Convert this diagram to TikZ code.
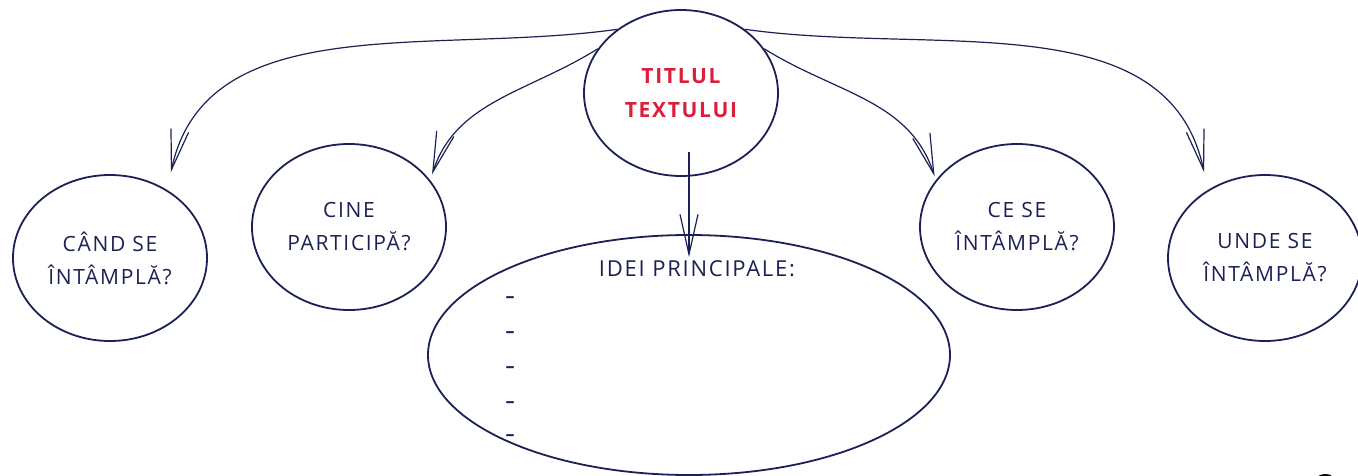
\documentclass[tikz,border=0pt]{standalone}
\usepackage{fontspec}
\setmainfont{Open Sans}[LetterSpace=8]
\usetikzlibrary{shapes.geometric,arrows.meta}
\definecolor{color1}{RGB}{27,33,84}
\definecolor{color2}{RGB}{218,30,60}

\begin{document}
\begin{tikzpicture}[x=1pt,y=-1pt,
  bubble/.style={draw=color1,line width=1.8pt,ellipse,inner sep=0pt,
    minimum width=194pt,minimum height=166pt,align=center,text=color1,
    font=\fontsize{21}{33}\selectfont},
  link/.style={color1,line width=1.2pt,
    -{Straight Barb[length=40pt,width=18pt,line width=1.2pt]}},
  hyphen/.style={text=color1,font=\fontsize{18}{18}\selectfont\bfseries}]
\useasboundingbox (0,0) rectangle (1358,476);

% the five bubbles
\node[bubble,text=color2,font=\fontsize{21}{34}\selectfont\bfseries] (title) at (681,93) {TITLUL\\TEXTULUI};
\node[bubble] (cand) at (110,258) {CÂND SE\\ÎNTÂMPLĂ?};
\node[bubble] (cine) at (349,227) {CINE\\PARTICIPĂ?};
\node[bubble] (cese) at (1017,227) {CE SE\\ÎNTÂMPLĂ?};
\node[bubble] (unde) at (1265,258) {UNDE SE\\ÎNTÂMPLĂ?};

% big ellipse with the list
\node[bubble,minimum width=522pt,minimum height=240pt] (ideas) at (689,355) {};
\node[text=color1,font=\fontsize{22}{22}\selectfont] (head) at (697,269) {IDEI PRINCIPALE:};
\foreach \y [count=\i] in {300,335,370,405,438}
  \node[hyphen] (d\i) at (510,\y) {–};

% arrows
\draw[link,shorten >=18pt] (title.135) to[out=188,in=78] (cand.50);
\draw[link,shorten >=6pt] (title.152) to[out=212,in=72] (cine.30);
\draw[link,shorten >=4pt] (title.28) to[out=-32,in=108] (cese.150);
\draw[link,shorten >=18pt] (title.45) to[out=-8,in=102] (unde.130);
\draw[link] ([yshift=25pt]title.south -| ideas.north) -- ([yshift=-23pt]ideas.north);

% page number, cut by the page edge
\node[font=\fontsize{40}{40}\selectfont\bfseries] (page) at (1326,489) {2};
\end{tikzpicture}
\end{document}
